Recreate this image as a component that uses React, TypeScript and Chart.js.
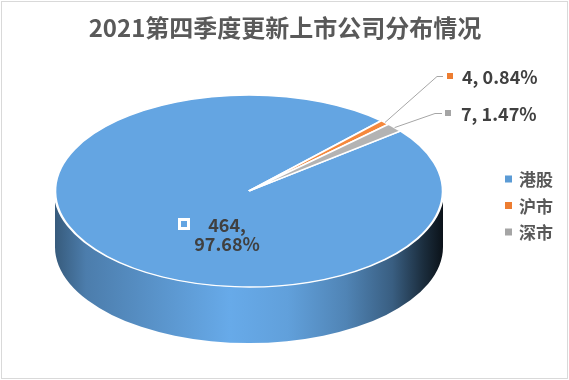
import React, { useEffect, useRef } from 'react';
import { Chart, registerables } from 'chart.js';
Chart.register(...registerables);

// ---- data ----
const TITLE = '2021第四季度更新上市公司分布情况';
const categories = ['港股', '沪市', '深市'];
const values = [464, 4, 7];
const legendColors = ['#5B9BD5', '#ED7D31', '#A5A5A5'];
const topColors = ['#64A5E2', '#F5883C', '#B3B3B3'];

// ---- style / layout ----
const FONT = '"Noto Sans CJK SC", "Noto Sans", sans-serif';
const ROTATION = 51.3;
const CX = 249, CY = 191, RX = 194, RY = 96, DEPTH = 56;
const SIDE_STOPS: [number, number][] = [
  [0, 0.55], [0.08, 0.76], [0.45, 1.03], [0.6, 0.97], [0.75, 0.8], [0.87, 0.57], [0.95, 0.27], [1, 0.11],
];
// label placements (big slice inside, small slices with leader lines)
const INNER_LABEL = { x: 227, y: 225, key: { x: 178, y: 218 } };
const OUTER_LABELS: Record<number, { lineEnd: number; y: number; elbow: number; sq: number; text: number }> = {
  1: { lineEnd: 443, y: 76, elbow: 437, sq: 447, text: 462 },
  2: { lineEnd: 442, y: 113, elbow: 435, sq: 445, text: 461 },
};
const LEGEND = { boxX: 505, textX: 519, y0: 179, step: 26.5 };

function hexToRgb(h: string) {
  const n = parseInt(h.slice(1), 16);
  return [(n >> 16) & 255, (n >> 8) & 255, n & 255];
}
function shade(h: string, f: number) {
  const [r, g, b] = hexToRgb(h).map((c) => Math.max(0, Math.min(255, Math.round(c * f))));
  return `rgb(${r},${g},${b})`;
}

const total = values.reduce((a, b) => a + b, 0);
const pct = (v: number) => ((v / total) * 100).toFixed(2) + '%';

const pie3d = {
  id: 'pie3d',
  beforeDatasetsDraw(chart: any) {
    const ctx: CanvasRenderingContext2D = chart.ctx;
    const arcs = chart.getDatasetMeta(0).data;
    // side walls (front half only)
    arcs.forEach((arc: any, i: number) => {
      const { startAngle, endAngle } = arc.getProps(['startAngle', 'endAngle'], true);
      for (let k = -1; k <= 1; k++) {
        const base = 2 * Math.PI * k;
        const lo = Math.max(startAngle, base);
        const hi = Math.min(endAngle, base + Math.PI);
        if (hi <= lo) continue;
        const g = ctx.createLinearGradient(CX - RX, 0, CX + RX, 0);
        SIDE_STOPS.forEach(([p, f]) => g.addColorStop(p, shade(topColors[i], f)));
        ctx.save();
        ctx.fillStyle = g;
        ctx.beginPath();
        ctx.ellipse(CX, CY, RX, RY, 0, lo - base, hi - base, false);
        ctx.ellipse(CX, CY + DEPTH, RX, RY, 0, hi - base, lo - base, true);
        ctx.closePath();
        ctx.fill();
        ctx.restore();
      }
    });
    // squash top face into ellipse
    const a0 = arcs[0];
    const R = a0.outerRadius;
    ctx.save();
    ctx.translate(CX, CY);
    ctx.scale(RX / R, RY / R);
    ctx.translate(-a0.x, -a0.y);
  },
  afterDatasetsDraw(chart: any) {
    const ctx: CanvasRenderingContext2D = chart.ctx;
    ctx.restore();
    const arcs = chart.getDatasetMeta(0).data;
    ctx.save();
    ctx.font = `bold 18px ${FONT}`;
    ctx.textBaseline = 'middle';
    // inner label for largest slice
    ctx.fillStyle = '#ffffff';
    ctx.fillRect(INNER_LABEL.key.x, INNER_LABEL.key.y, 12, 12);
    ctx.fillStyle = topColors[0];
    ctx.fillRect(INNER_LABEL.key.x + 3, INNER_LABEL.key.y + 3, 6, 6);
    ctx.fillStyle = '#404040';
    ctx.textAlign = 'center';
    ctx.fillText(`${values[0]},`, INNER_LABEL.x, INNER_LABEL.y);
    ctx.fillText(pct(values[0]), INNER_LABEL.x, INNER_LABEL.y + 19);
    // outer labels with leader lines
    Object.keys(OUTER_LABELS).forEach((key) => {
      const i = Number(key);
      const L = OUTER_LABELS[i];
      const arc = arcs[i];
      const { startAngle, endAngle } = arc.getProps(['startAngle', 'endAngle'], true);
      const mid = (startAngle + endAngle) / 2;
      const sx = CX + RX * Math.cos(mid);
      const sy = CY + RY * Math.sin(mid);
      ctx.strokeStyle = '#A6A6A6';
      ctx.lineWidth = 1;
      ctx.beginPath();
      ctx.moveTo(sx, sy);
      ctx.lineTo(L.elbow, L.y + 0.5);
      ctx.lineTo(L.lineEnd, L.y + 0.5);
      ctx.stroke();
      ctx.fillStyle = legendColors[i];
      ctx.fillRect(L.sq, L.y - 3, 6, 6);
      ctx.fillStyle = '#404040';
      ctx.textAlign = 'left';
      ctx.fillText(`${values[i]}, ${pct(values[i])}`, L.text, L.y + 1);
    });
    ctx.restore();
  },
  afterDraw(chart: any) {
    const ctx: CanvasRenderingContext2D = chart.ctx;
    ctx.save();
    // title
    ctx.fillStyle = '#595959';
    ctx.font = `bold 24px ${FONT}`;
    ctx.textAlign = 'center';
    ctx.textBaseline = 'middle';
    ctx.fillText(TITLE, 285, 28);
    // legend
    ctx.font = `bold 17px ${FONT}`;
    ctx.textAlign = 'left';
    categories.forEach((c, i) => {
      const y = LEGEND.y0 + i * LEGEND.step;
      ctx.fillStyle = legendColors[i];
      ctx.fillRect(LEGEND.boxX, y - 3.5, 7, 7);
      ctx.fillStyle = '#595959';
      ctx.fillText(c, LEGEND.textX, y + 1);
    });
    // chart border
    ctx.strokeStyle = '#D9D9D9';
    ctx.lineWidth = 1;
    ctx.strokeRect(1.5, 1.5, 566, 377);
    ctx.restore();
  },
};

export default function App() {
  const ref = useRef<HTMLCanvasElement>(null);
  useEffect(() => {
    if (!ref.current) return;
    const chart = new Chart(ref.current, {
      type: 'pie',
      data: {
        labels: categories,
        datasets: [
          {
            data: values,
            backgroundColor: topColors,
            borderColor: '#ffffff',
            borderWidth: 2.5,
            clip: false as any,
          },
        ],
      },
      options: {
        responsive: false,
        animation: false,
        rotation: ROTATION,
        layout: { padding: 0 },
        events: [],
        plugins: {
          legend: { display: false },
          title: { display: false },
          tooltip: { enabled: false },
        },
      },
      plugins: [pie3d],
    });
    return () => chart.destroy();
  }, []);
  return (
    <div style={{ position: 'absolute', left: 0, top: 0, width: 569, height: 380, background: '#fff' }}>
      <canvas ref={ref} width={569} height={380} />
    </div>
  );
}
